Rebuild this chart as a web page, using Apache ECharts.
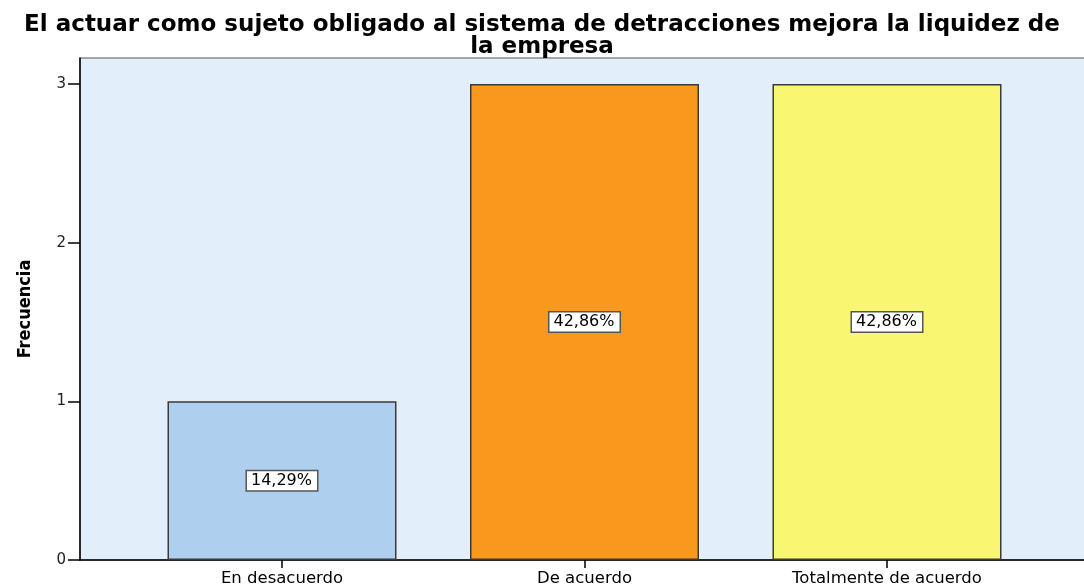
<!DOCTYPE html>
<html><head><meta charset="utf-8">
<script src="https://cdn.jsdelivr.net/npm/echarts@6/dist/echarts.min.js"></script>
<style>html,body{margin:0;padding:0;background:#fff}#c{width:1084px;height:585px}</style>
</head><body><div id="c"></div>
<script>
var categories = ['En desacuerdo', 'De acuerdo', 'Totalmente de acuerdo'];
var frequencies = [1, 3, 3];
var percentLabels = ['14,29%', '42,86%', '42,86%'];
var barColors = ['#aecfee', '#f8991e', '#f9f672'];
var yTicks = [0, 1, 2, 3];
var titleText = 'El actuar como sujeto obligado al sistema de detracciones mejora la liquidez de\nla empresa';

var chart = echarts.init(document.getElementById('c'));
var YMAX = 3.164;
chart.setOption({
  animation: false,
  title: {
    text: titleText, left: 'center', top: 9,
    textStyle: {fontFamily: 'DejaVu Sans', fontWeight: 'bold', fontSize: 23, lineHeight: 22, color: '#000'}
  },
  grid: [
    {left: 80, right: -2, top: 58, bottom: 25, show: true, backgroundColor: '#e2eefa', borderColor: '#8c8c8c', borderWidth: 1.5, outerBoundsMode: 'none', containLabel: false},
    {left: 130.75, right: 45.75, top: 58, bottom: 25, outerBoundsMode: 'none', containLabel: false}
  ],
  xAxis: [
    {gridIndex: 0, type: 'value', min: 0, max: 1, axisLine: {show: true, onZero: false, lineStyle: {color: '#000', width: 1.5}}, axisTick: {show: false}, axisLabel: {show: false}, splitLine: {show: false}},
    {gridIndex: 1, type: 'category', data: categories, axisLine: {show: false}, axisTick: {show: true, alignWithLabel: true, length: 8, lineStyle: {color: '#000', width: 1.5}},
     axisLabel: {fontFamily: 'DejaVu Sans', fontSize: 16.5, color: '#000', margin: 10}}
  ],
  yAxis: [
    {gridIndex: 0, type: 'value', min: 0, max: 1, show: false},
    {gridIndex: 1, type: 'value', min: 0, max: YMAX, interval: 1, offset: 50.75,
     axisLine: {show: true, lineStyle: {color: '#000', width: 1.5}},
     axisTick: {show: true, length: 12, customValues: yTicks, lineStyle: {color: '#000', width: 1.5}},
     axisLabel: {customValues: yTicks, fontFamily: 'DejaVu Sans', fontSize: 15, color: '#222', margin: 14},
     splitLine: {show: false},
     name: 'Frecuencia', nameLocation: 'middle', nameGap: 46,
     nameTextStyle: {fontFamily: 'DejaVu Sans Condensed', fontWeight: 'bold', fontSize: 18, color: '#000'}}
  ],
  series: [{
    type: 'bar', xAxisIndex: 1, yAxisIndex: 1, barWidth: 229,
    data: frequencies.map(function (v, i) {
      return {value: v, itemStyle: {color: barColors[i]}};
    }),
    itemStyle: {borderColor: '#3a3a3a', borderWidth: 1.5},
    label: {
      show: true, position: 'inside',
      formatter: function (p) { return percentLabels[p.dataIndex]; },
      fontFamily: 'DejaVu Sans', fontSize: 16, color: '#000',
      backgroundColor: '#fff', borderColor: '#555', borderWidth: 1.5, padding: [2, 5, 1, 4]
    }
  }]
});
</script></body></html>
